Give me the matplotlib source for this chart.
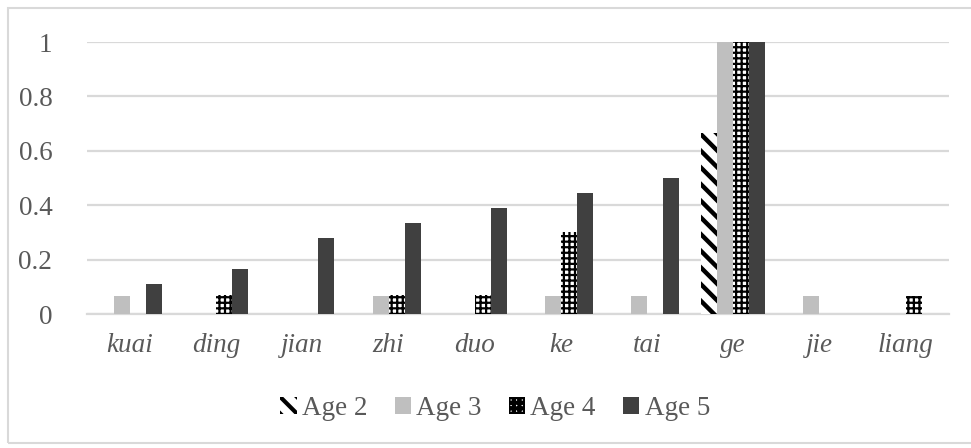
import numpy as np
import matplotlib
matplotlib.use('Agg')
import matplotlib.pyplot as plt
from matplotlib.patches import Rectangle

words = ['kuai', 'ding', 'jian', 'zhi', 'duo', 'ke', 'tai', 'ge', 'jie', 'liang']
age2 = [0, 0, 0, 0, 0, 0, 0, 0.667, 0, 0]
age3 = [0.067, 0, 0, 0.067, 0, 0.067, 0.067, 1.0, 0.067, 0]
age4 = [0, 0.071, 0, 0.071, 0.071, 0.30, 0, 1.0, 0, 0.067]
age5 = [0.111, 0.167, 0.278, 0.333, 0.389, 0.444, 0.5, 1.0, 0, 0]
series_names = ['Age 2', 'Age 3', 'Age 4', 'Age 5']

plt.rcParams['font.family'] = 'Liberation Serif'
plt.rcParams['hatch.linewidth'] = 3.0
text_color = '#595959'
grid_color = '#d9d9d9'

fig = plt.figure(figsize=(9.71, 4.48), dpi=100)
ax = fig.add_axes([0.0896, 0.299, 0.8874, 0.607])

x = np.arange(len(words))
w = 0.186
styles = [
    dict(color='white', edgecolor='black', hatch='\\\\', linewidth=0),
    dict(color='#bfbfbf', linewidth=0),
    dict(color='white', edgecolor='black', hatch='+++', linewidth=0),
    dict(color='#404040', linewidth=0),
]
hatch_lw = [3.2, None, 1.6, None]

handles = []
for i, vals in enumerate([age2, age3, age4, age5]):
    bars = ax.bar(x + (i - 1.5) * w, vals, width=w, label=series_names[i], zorder=3, **styles[i])
    if hatch_lw[i] is not None:
        for p in bars:
            if hasattr(p, 'set_hatch_linewidth'):
                p.set_hatch_linewidth(hatch_lw[i])
    handles.append(bars)

ax.set_xlim(-0.5, len(words) - 0.5)
ax.set_ylim(0, 1)
ax.set_yticks([0, 0.2, 0.4, 0.6, 0.8, 1])
ax.set_yticklabels(['0', '0.2', '0.4', '0.6', '0.8', '1'])
ax.set_xticks(x)
ax.set_xticklabels(words, fontstyle='italic')
ax.tick_params(axis='both', length=0, labelsize=19.5, colors=text_color)
ax.tick_params(axis='y', pad=25)
ax.tick_params(axis='x', pad=14)
ax.grid(axis='y', color=grid_color, linewidth=1.6, zorder=0)
ax.set_axisbelow(True)
for s in ['top', 'right', 'left']:
    ax.spines[s].set_visible(False)
ax.spines['bottom'].set_color(grid_color)
ax.spines['bottom'].set_linewidth(1.6)
ax.spines['bottom'].set_zorder(2)

leg = fig.legend(handles=handles, labels=series_names, loc='center', bbox_to_anchor=(0.51, 0.088),
                 ncol=4, frameon=False, fontsize=19.5, handlelength=0.6, handleheight=0.6,
                 handletextpad=0.2, columnspacing=1.0, labelcolor=text_color)

fig.patches.append(Rectangle((8 / 971, 5 / 448), 1.2, 435 / 448, transform=fig.transFigure,
                             fill=False, edgecolor='#d9d9d9', linewidth=1.5))

fig.savefig('out.png', dpi=100)
